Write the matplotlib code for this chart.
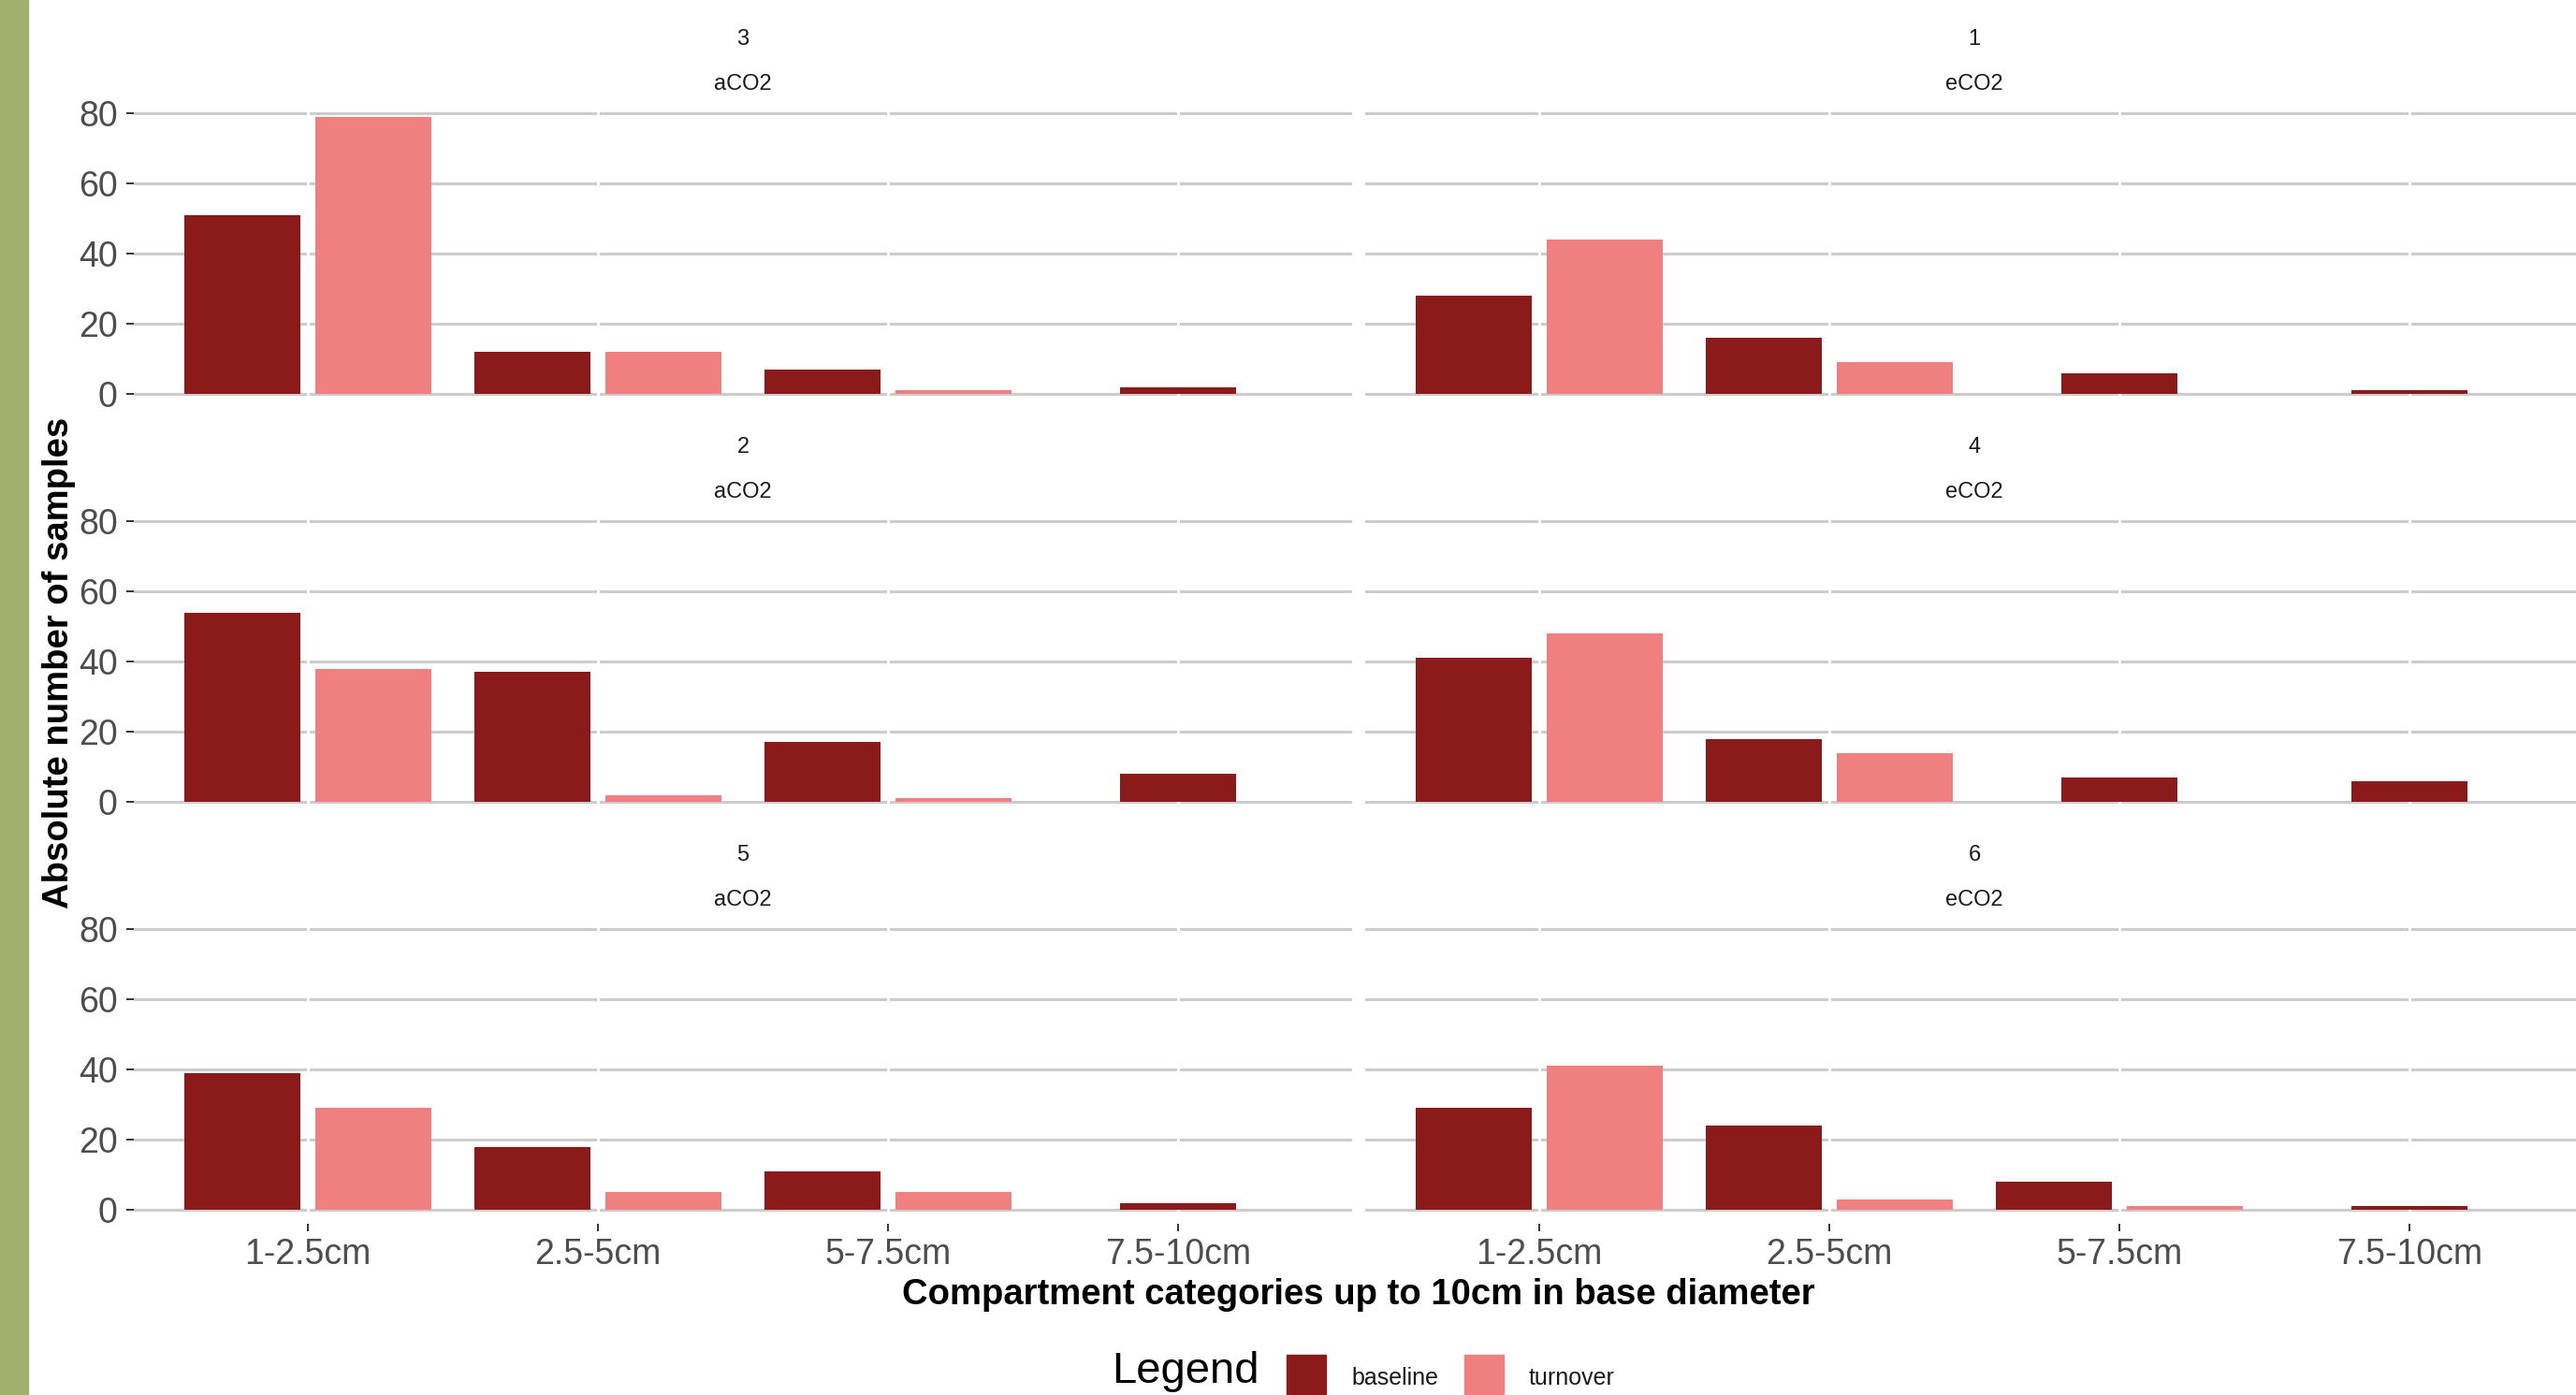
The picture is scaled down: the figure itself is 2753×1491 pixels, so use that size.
import numpy as np
import matplotlib
matplotlib.use("Agg")
import matplotlib.pyplot as plt
from matplotlib.patches import Rectangle

plt.rcParams['font.family'] = ['Liberation Sans', 'DejaVu Sans']

# dados
categorias = ["1-2.5cm", "2.5-5cm", "5-7.5cm", "7.5-10cm"]
paineis = ["3", "1", "2", "4", "5", "6"]
tratamentos = ["aCO2", "eCO2", "aCO2", "eCO2", "aCO2", "eCO2"]
nan = np.nan
baseline = [
    [51, 12, 7, 2],
    [28, 16, 6, 1],
    [54, 37, 17, 8],
    [41, 18, 7, 6],
    [39, 18, 11, 2],
    [29, 24, 8, 1],
]
turnover = [
    [79, 12, 1, nan],
    [44, 9, nan, nan],
    [38, 2, 1, nan],
    [48, 14, nan, nan],
    [29, 5, 5, nan],
    [41, 3, 1, nan],
]
yticks = [0, 20, 40, 60, 80]

# cores
cor_base = "#8B1A1A"
cor_turn = "#F08080"
cor_grade = "#CCCCCC"
cor_texto = "#4D4D4D"

W, H = 2753, 1491
fig = plt.figure(figsize=(W / 100, H / 100), dpi=100)

def fx(px):
    return px / W

def fy(py):
    return 1 - py / H

# faixa verde da esquerda
fig.patches.append(Rectangle((0, 0), fx(30), 1, transform=fig.transFigure,
                             color="#A2B06D", zorder=0))

x = np.arange(len(categorias))
larg_painel = 1302
esq = [143, 1459]
for k in range(6):
    lin, col = divmod(k, 2)
    topo = 110 + 436 * lin
    ax = fig.add_axes([fx(esq[col]), fy(topo + 326), fx(larg_painel), 326 / H])
    b = np.array(baseline[k], dtype=float)
    t = np.array(turnover[k], dtype=float)
    so_base = np.isnan(t)
    xb = np.where(so_base, x, x - 0.225)
    ax.bar(xb, b, width=0.4, color=cor_base, zorder=2)
    ax.bar(x + 0.225, np.nan_to_num(t), width=0.4, color=cor_turn, zorder=2)
    for xi in x:
        ax.axvline(xi, color="white", lw=2, zorder=1)
    ax.set_xlim(-0.6, 3.6)
    ax.set_ylim(-3.95, 82.95)
    ax.set_yticks(yticks)
    ax.set_xticks(x)
    ax.set_xticklabels(categorias)
    ax.yaxis.grid(True, color=cor_grade, lw=2.2)
    ax.set_axisbelow(True)
    for s in ax.spines.values():
        s.set_visible(False)
    ax.tick_params(axis="both", colors="#333333", labelcolor=cor_texto,
                   labelsize=27, length=5.5, width=1.4)
    ax.tick_params(axis="y", pad=7)
    ax.tick_params(axis="x", pad=5)
    if col == 1:
        ax.tick_params(axis="y", length=0, labelleft=False)
    if lin < 2:
        ax.tick_params(axis="x", length=0, labelbottom=False)
    cx = esq[col] + larg_painel / 2
    fig.text(fx(cx), fy(42 + 436 * lin), paineis[k], ha="center", va="center",
             fontsize=17, color="#1A1A1A")
    fig.text(fx(cx), fy(90 + 436 * lin), tratamentos[k], ha="center", va="center",
             fontsize=17, color="#1A1A1A")

fig.text(fx(1452), fy(1384), "Compartment categories up to 10cm in base diameter",
         ha="center", va="center", fontsize=27.5, fontweight="bold")
fig.text(fx(63), fy(708), "Absolute number of samples", ha="center", va="center",
         rotation=90, fontsize=27.5, fontweight="bold")

# legenda
fig.text(fx(1188), fy(1478), "Legend", ha="left", va="baseline", fontsize=34)
for x0, cor, rot in [(1375, cor_base, "baseline"), (1565, cor_turn, "turnover")]:
    fig.patches.append(Rectangle((fx(x0), fy(1490)), fx(42), 42 / H,
                                 transform=fig.transFigure, color=cor))
    fig.text(fx(x0 + 69), fy(1480), rot, ha="left", va="baseline", fontsize=18,
             color="#1A1A1A")

fig.savefig("out.png", dpi=100, facecolor="white")
